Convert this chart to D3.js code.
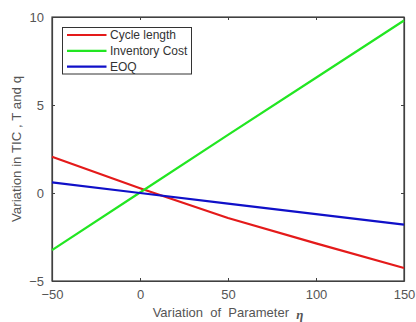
<!DOCTYPE html>
<html>
<head>
<meta charset="utf-8">
<script src="https://cdn.jsdelivr.net/npm/d3@7"></script>
<style>
  html, body { margin: 0; padding: 0; background: #fff; }
  svg { display: block; font-family: "Liberation Sans", Arial, sans-serif; }
</style>
</head>
<body>
<svg id="chart" width="416" height="322"></svg>
<script>
// Percentage variation of parameter eta
const eta = [-50, 0, 50, 100, 150];
// Variation in cycle length T
const cycleLength = [2.06, 0.27, -1.42, -2.86, -4.26];
// Variation in total inventory cost TIC
const inventoryCost = [-3.25, 0.03, 3.3, 6.55, 9.8];
// Variation in order quantity q
const eoq = [0.6, 0.0, -0.6, -1.2, -1.8];

const xTicks = [-50, 0, 50, 100, 150];
const yTicks = [-5, 0, 5, 10];

const seriesNames = ["Cycle length", "Inventory Cost", "EOQ"];
const seriesColors = ["#e41a1a", "#22e622", "#1010c8"];
const seriesValues = [cycleLength, inventoryCost, eoq];

const svg = d3.select("#chart");
const plotLeft = 52, plotRight = 404, plotTop = 17, plotBottom = 281;

const x = d3.scaleLinear().domain([-50, 150]).range([plotLeft, plotRight]);
const y = d3.scaleLinear().domain([-5, 10]).range([plotBottom, plotTop]);

const axisColor = "#404040";
const textColor = "#555";

// Box around the plot
svg.append("rect")
  .attr("x", plotLeft).attr("y", plotTop)
  .attr("width", plotRight - plotLeft).attr("height", plotBottom - plotTop)
  .attr("fill", "none").attr("stroke", axisColor).attr("stroke-width", 1.2);

// Bottom axis with inward ticks
const xAxis = svg.append("g")
  .attr("transform", `translate(0,${plotBottom})`)
  .call(d3.axisBottom(x).tickValues(xTicks).tickSizeInner(-3).tickSizeOuter(0).tickPadding(9));
// Top mirror ticks
const xAxisTop = svg.append("g")
  .attr("transform", `translate(0,${plotTop})`)
  .call(d3.axisTop(x).tickValues(xTicks).tickSizeInner(-3).tickSizeOuter(0).tickFormat(""));
// Left axis
const yAxis = svg.append("g")
  .attr("transform", `translate(${plotLeft},0)`)
  .call(d3.axisLeft(y).tickValues(yTicks).tickSizeInner(-3).tickSizeOuter(0).tickPadding(8));
// Right mirror ticks
const yAxisRight = svg.append("g")
  .attr("transform", `translate(${plotRight},0)`)
  .call(d3.axisRight(y).tickValues(yTicks).tickSizeInner(-3).tickSizeOuter(0).tickFormat(""));

[xAxis, xAxisTop, yAxis, yAxisRight].forEach(g => {
  g.select(".domain").attr("stroke", axisColor).attr("stroke-width", 1.2);
  g.selectAll(".tick line").attr("stroke", axisColor);
  g.selectAll(".tick text")
    .attr("fill", textColor)
    .attr("font-size", 13)
    .attr("font-family", "Liberation Sans, Arial, sans-serif");
});

// Data lines
const line = d3.line().x((d, i) => x(eta[i])).y(d => y(d));
seriesValues.forEach((vals, k) => {
  svg.append("path")
    .datum(vals)
    .attr("d", line)
    .attr("fill", "none")
    .attr("stroke", seriesColors[k])
    .attr("stroke-width", 2.2)
    .attr("stroke-linejoin", "round");
});

// Axis titles
const xLabel = svg.append("text")
  .attr("x", 228).attr("y", 317)
  .attr("text-anchor", "middle")
  .attr("fill", textColor)
  .attr("font-size", 13);
xLabel.append("tspan").attr("xml:space", "preserve").text("Variation  of  Parameter  ");
xLabel.append("tspan")
  .attr("font-family", "Liberation Serif, serif")
  .attr("font-style", "italic")
  .attr("font-weight", "bold")
  .attr("dy", 2)
  .text("η");

svg.append("text")
  .attr("transform", `translate(21,149) rotate(-90)`)
  .attr("text-anchor", "middle")
  .attr("fill", textColor)
  .attr("font-size", 13.3)
  .text("Variation in TIC , T and q");

// Legend
const legend = svg.append("g");
legend.append("rect")
  .attr("x", 62.5).attr("y", 27.5)
  .attr("width", 129).attr("height", 46.5)
  .attr("fill", "#fff").attr("stroke", "#333").attr("stroke-width", 1);
seriesNames.forEach((name, k) => {
  const ry = 35 + k * 15.8;
  legend.append("line")
    .attr("x1", 67).attr("x2", 106.5)
    .attr("y1", ry).attr("y2", ry)
    .attr("stroke", seriesColors[k]).attr("stroke-width", 2.2);
  legend.append("text")
    .attr("x", 110).attr("y", ry + 4.3)
    .attr("fill", "#333")
    .attr("font-size", 12)
    .text(name);
});
</script>
</body>
</html>
